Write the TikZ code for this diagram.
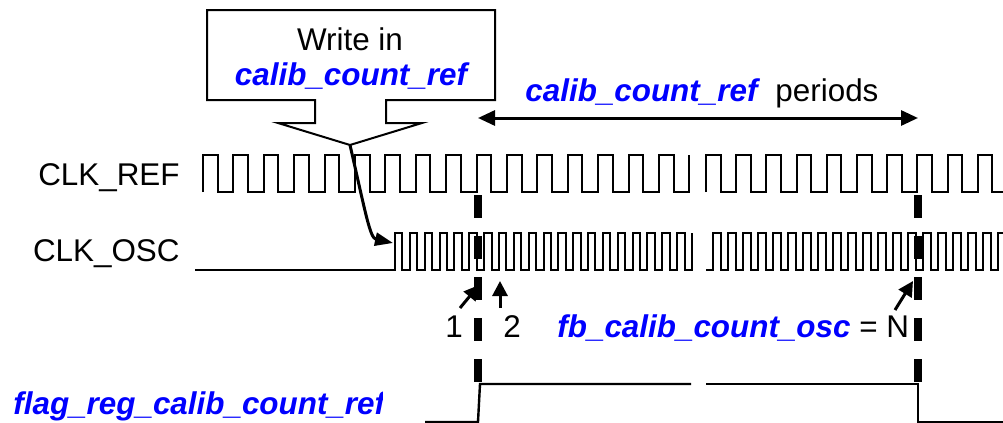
\documentclass[tikz,border=0pt]{standalone}
\usepackage{fontspec}
\setmainfont{Liberation Sans}
\usepackage{tikz}
\usepackage{color}
\usetikzlibrary{arrows.meta}

\newcommand{\regname}[1]{\textcolor{blue}{\bfseries\itshape #1}}
\tikzset{
  wave/.style={color=black, line width=1pt},
  marker/.style={color=black, line width=3.6pt, dash pattern=on 11.5pt off 9pt},
  pointer/.style={color=black, line width=1.5pt, -{Triangle[length=7.5pt,width=7.5pt]}},
  lbl/.style={font=\fontsize{15.7}{18}\selectfont, inner sep=0pt}
}

\begin{document}
\begin{tikzpicture}[x=0.5pt, y=-0.5pt]
  \clip (0,0) rectangle (1003,423);

  % callout box
  \draw[color=black, line width=1pt, fill=white] (207,10) -- (495,10) -- (495,100) -- (386,100) -- (386,123) -- (422,123) -- (350,145) -- (278,123) -- (315,123) -- (315,100) -- (207,100) -- cycle;
  \coordinate (tip) at (350,145);
  \node[lbl, anchor=base] (write) at (350,50) {Write in};
  \node[lbl, anchor=base] (callref) at (351,85) {\regname{calib\_count\_ref}};

  % period count arrow
  \coordinate (pstart) at (478,118);
  \coordinate (pend) at (918,118);
  \draw[color=black, line width=1.5pt, {Triangle[length=8.5pt,width=7.5pt]}-{Triangle[length=8.5pt,width=7.5pt]}] (pstart) -- (pend);
  \node[lbl, anchor=base west] (periods) at (525,101) {\regname{calib\_count\_ref}\hspace{9pt}periods};

  % clocks
  \node[lbl, anchor=base east] (clkref) at (180,185) {CLK\_REF};
  \node[lbl, anchor=base east] (clkosc) at (180,261) {CLK\_OSC};
  \draw[wave] (203,192) \foreach \k in {1,...,16}{ -- ++(0,-37) -- ++(14.6,0) -- ++(0,37) -- ++(15.8,0)} -- ++(0,-37);
  \draw[wave] (706,192) \foreach \k in {1,...,10}{ -- ++(0,-37) -- ++(14.5,0) -- ++(0,37) -- ++(15.7,0)};
  \draw[wave] (195,270) -- (395,270) \foreach \k in {1,...,20}{ -- ++(0,-37) -- ++(7.4,0) -- ++(0,37) -- ++(7.45,0)} -- ++(0,-37);
  \draw[wave] (706,270) -- (713,270) \foreach \k in {1,...,20}{ -- ++(0,-37) -- ++(7.5,0) -- ++(0,37) -- ++(7.5,0)};
  \coordinate (oscstart) at (393,243);
  \draw[color=black, line width=1.5pt, -{Triangle[length=9pt,width=6.5pt]}] (tip) .. controls (366,215) and (370,238) .. (oscstart);

  % flag
  \draw[wave, line width=1.2pt] (425,422) -- (478,422) -- (480,384) -- (691,384);
  \draw[wave, line width=1.2pt] (706,384) -- (918,384) -- (918,422) -- (1003,422);
  \begin{scope}
    \clip (0,380) rectangle (382,423);
    \node[lbl, anchor=base west] (flag) at (13,414) {\regname{flag\_reg\_calib\_count\_ref}};
  \end{scope}

  % markers
  \draw[marker] (478,195) -- (478,385);
  \draw[marker] (918,195) -- (918,385);

  \node[lbl, anchor=base] (one) at (454,337) {1};
  \node[lbl, anchor=base] (two) at (512,337) {2};
  \node[lbl, anchor=base west] (count) at (557,337) {\regname{fb\_calib\_count\_osc} = N};
  \coordinate (from1) at (460,308);
  \coordinate (edge1) at (479,285);
  \coordinate (from2) at (500,308);
  \coordinate (edge2) at (500,281);
  \coordinate (fromN) at (895,310);
  \coordinate (edgeN) at (913,281);
  \draw[pointer] (from1) -- (edge1);
  \draw[pointer] (from2) -- (edge2);
  \draw[pointer] (fromN) -- (edgeN);
\end{tikzpicture}
\end{document}
